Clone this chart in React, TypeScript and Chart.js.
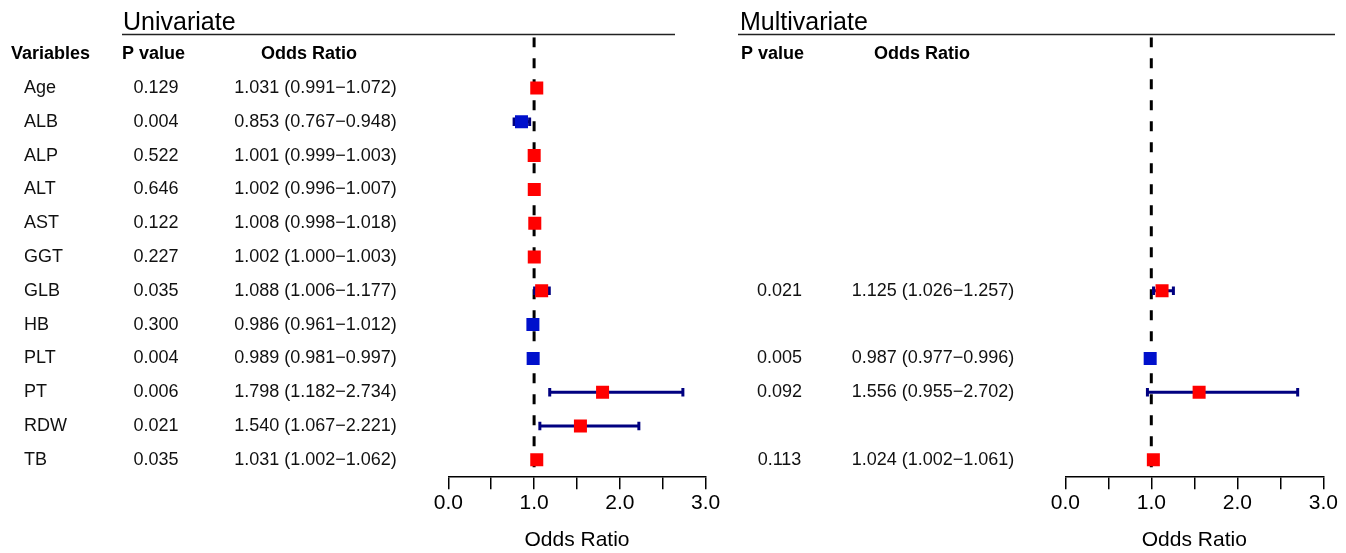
import React, { useEffect, useRef } from 'react';
import { Chart, registerables } from 'chart.js';

Chart.register(...registerables);

// ---------- data ----------
const variables = ['Age', 'ALB', 'ALP', 'ALT', 'AST', 'GGT', 'GLB', 'HB', 'PLT', 'PT', 'RDW', 'TB'];

const uniP = ['0.129', '0.004', '0.522', '0.646', '0.122', '0.227', '0.035', '0.300', '0.004', '0.006', '0.021', '0.035'];
const uniOR = [1.031, 0.853, 1.001, 1.002, 1.008, 1.002, 1.088, 0.986, 0.989, 1.798, 1.54, 1.031];
const uniLow = [0.991, 0.767, 0.999, 0.996, 0.998, 1.0, 1.006, 0.961, 0.981, 1.182, 1.067, 1.002];
const uniHigh = [1.072, 0.948, 1.003, 1.007, 1.018, 1.003, 1.177, 1.012, 0.997, 2.734, 2.221, 1.062];

const multiP = [null, null, null, null, null, null, '0.021', null, '0.005', '0.092', null, '0.113'];
const multiOR = [null, null, null, null, null, null, 1.125, null, 0.987, 1.556, null, 1.024];
const multiLow = [null, null, null, null, null, null, 1.026, null, 0.977, 0.955, null, 1.002];
const multiHigh = [null, null, null, null, null, null, 1.257, null, 0.996, 2.702, null, 1.061];

const xTickValues = [0, 1, 2, 3];
const refValue = 1;

// ---------- styles ----------
const FONT = '"Liberation Sans", Arial, Helvetica, sans-serif';
const RED = '#FF0000';
const BLUE = '#0010CC';
const NAVY = '#000080';

type Panel = {
  width: number;
  padLeft: number;
  padRight: number;
  title: string;
  titleX: number;
  lineX1: number;
  lineX2: number;
  headers: { text: string; x: number }[];
  names?: { x: number };
  pX: number;
  orX: number;
  p: (string | null)[];
  or: (number | null)[];
  lo: (number | null)[];
  hi: (number | null)[];
};

const fmt = (v: number) => v.toFixed(3);

function textPlugin(panel: Panel) {
  return {
    id: 'forestText',
    afterDraw(chart: any) {
      const ctx = chart.ctx as CanvasRenderingContext2D;
      const y = chart.scales.y;
      ctx.save();
      ctx.fillStyle = '#000';
      // title
      ctx.font = `25px ${FONT}`;
      ctx.textAlign = 'left';
      ctx.textBaseline = 'alphabetic';
      ctx.fillText(panel.title, panel.titleX, 29.5);
      ctx.strokeStyle = '#222';
      ctx.lineWidth = 1.5;
      ctx.beginPath();
      ctx.moveTo(panel.lineX1, 34.5);
      ctx.lineTo(panel.lineX2, 34.5);
      ctx.stroke();
      // headers
      ctx.textBaseline = 'middle';
      ctx.font = `bold 18px ${FONT}`;
      const hy = y.getPixelForValue(-1);
      panel.headers.forEach((h) => ctx.fillText(h.text, h.x, hy));
      // rows
      ctx.font = `18px ${FONT}`;
      ctx.fillStyle = '#111';
      for (let i = 0; i < variables.length; i++) {
        const py = y.getPixelForValue(i);
        if (panel.names) {
          ctx.textAlign = 'left';
          ctx.fillText(variables[i], panel.names.x, py);
        }
        const p = panel.p[i];
        const or = panel.or[i];
        const lo = panel.lo[i];
        const hi = panel.hi[i];
        ctx.textAlign = 'center';
        if (p != null) ctx.fillText(p, panel.pX, py);
        if (or != null && lo != null && hi != null) {
          ctx.fillText(`${fmt(or)} (${fmt(lo)}\u2212${fmt(hi)})`, panel.orX, py);
        }
      }
      ctx.restore();
    },
  };
}

function buildCI(or: (number | null)[], lo: (number | null)[], hi: (number | null)[]) {
  const pts: { x: number | null; y: number | null }[] = [];
  for (let i = 0; i < or.length; i++) {
    if (or[i] == null) continue;
    pts.push({ x: lo[i] as number, y: i }, { x: hi[i] as number, y: i }, { x: null, y: null });
  }
  return pts;
}

function buildPoints(or: (number | null)[]) {
  const pts: { x: number; y: number }[] = [];
  const colors: string[] = [];
  for (let i = 0; i < or.length; i++) {
    const v = or[i];
    if (v == null) continue;
    pts.push({ x: v, y: i });
    colors.push(v < 1 ? BLUE : RED);
  }
  return { pts, colors };
}

function ForestPanel({ panel, left }: { panel: Panel; left: number }) {
  const ref = useRef<HTMLCanvasElement | null>(null);
  useEffect(() => {
    if (!ref.current) return;
    const { pts, colors } = buildPoints(panel.or);
    const chart = new Chart(ref.current, {
      type: 'scatter',
      data: {
        datasets: [
          {
            data: [
              { x: refValue, y: -1.5 },
              { x: refValue, y: variables.length - 0.5 },
            ],
            showLine: true,
            borderColor: '#000',
            borderWidth: 3,
            borderDash: [10, 11],
            pointRadius: 0,
            order: 3,
          } as any,
          {
            data: buildCI(panel.or, panel.lo, panel.hi),
            showLine: true,
            spanGaps: false,
            borderColor: NAVY,
            borderWidth: 3,
            pointStyle: 'line',
            pointRotation: 90,
            pointRadius: 4.3,
            pointBorderWidth: 3,
            pointBorderColor: NAVY,
            order: 2,
          } as any,
          {
            data: pts,
            showLine: false,
            pointStyle: 'rect',
            pointRadius: 9.2,
            pointBorderWidth: 0,
            pointBackgroundColor: colors,
            order: 1,
          } as any,
        ],
      },
      options: {
        animation: false,
        responsive: false,
        events: [],
        layout: { padding: { left: panel.padLeft, right: panel.padRight, top: 37.3, bottom: 0 } },
        plugins: { legend: { display: false }, tooltip: { enabled: false } },
        scales: {
          x: {
            type: 'linear',
            min: 0,
            max: 3,
            ticks: {
              stepSize: 0.5,
              autoSkip: false,
              maxRotation: 0,
              padding: 1,
              color: '#000',
              font: { family: FONT, size: 21 },
              callback: (v: any) => (xTickValues.includes(Number(v)) ? Number(v).toFixed(1) : ''),
            },
            grid: {
              display: true,
              drawOnChartArea: false,
              drawTicks: true,
              tickLength: 12.5,
              color: '#000',
              lineWidth: 1.5,
            },
            border: { display: true, color: '#000', width: 1.5 },
            title: {
              display: true,
              text: 'Odds Ratio',
              color: '#000',
              font: { family: FONT, size: 21 },
              padding: { top: 11.4, bottom: 0 },
            },
          },
          y: {
            type: 'linear',
            min: -1.5,
            max: variables.length - 0.5,
            reverse: true,
            display: false,
          },
        },
      },
      plugins: [textPlugin(panel)],
    } as any);
    return () => chart.destroy();
  }, [panel]);
  return (
    <canvas
      ref={ref}
      width={panel.width}
      height={553}
      style={{ position: 'absolute', left, top: 0, width: panel.width, height: 553 }}
    />
  );
}

const uniPanel: Panel = {
  width: 730,
  padLeft: 448.3,
  padRight: 730 - 705.7,
  title: 'Univariate',
  titleX: 123,
  lineX1: 122,
  lineX2: 675,
  headers: [
    { text: 'Variables', x: 11 },
    { text: 'P value', x: 122 },
    { text: 'Odds Ratio', x: 261 },
  ],
  names: { x: 24 },
  pX: 156,
  orX: 315.5,
  p: uniP,
  or: uniOR,
  lo: uniLow,
  hi: uniHigh,
};

const MULTI_LEFT = 730;
const multiPanel: Panel = {
  width: 1346 - MULTI_LEFT,
  padLeft: 1065.3 - MULTI_LEFT,
  padRight: 1346 - 1323.3,
  title: 'Multivariate',
  titleX: 740 - MULTI_LEFT,
  lineX1: 738 - MULTI_LEFT,
  lineX2: 1335 - MULTI_LEFT,
  headers: [
    { text: 'P value', x: 741 - MULTI_LEFT },
    { text: 'Odds Ratio', x: 874 - MULTI_LEFT },
  ],
  pX: 779.5 - MULTI_LEFT,
  orX: 933 - MULTI_LEFT,
  p: multiP,
  or: multiOR,
  lo: multiLow,
  hi: multiHigh,
};

export default function App() {
  return (
    <div style={{ position: 'absolute', left: 0, top: 0, width: 1346, height: 553, background: '#fff' }}>
      <ForestPanel panel={uniPanel} left={0} />
      <ForestPanel panel={multiPanel} left={MULTI_LEFT} />
    </div>
  );
}
